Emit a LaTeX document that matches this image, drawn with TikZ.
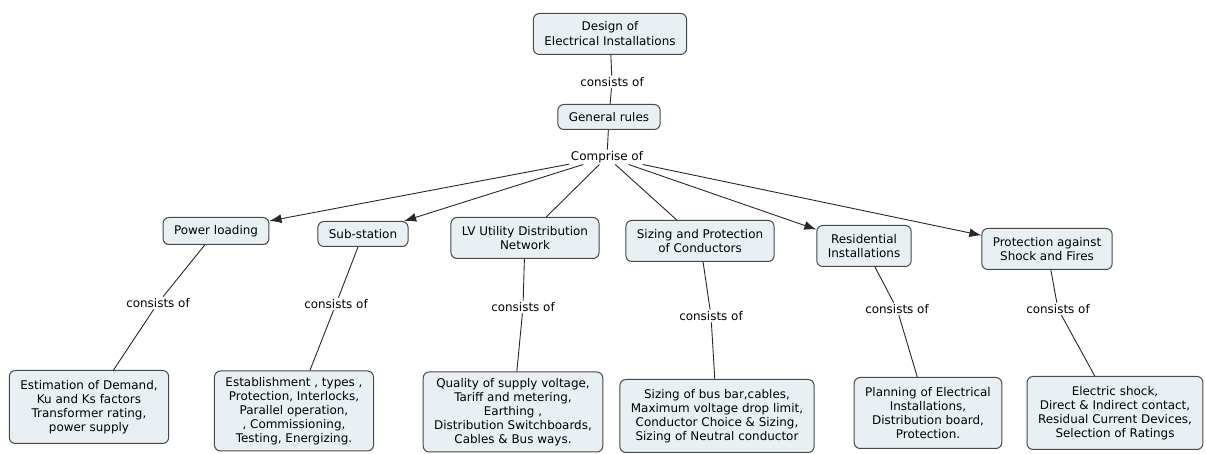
\documentclass[tikz,border=0pt]{standalone}
\usepackage{xcolor}
\usepackage{fontspec}
\setmainfont{DejaVu Sans}
\usepackage{tikz}
\usetikzlibrary{arrows.meta}
\definecolor{cmapFill}{RGB}{233,240,244}
\definecolor{cmapLine}{RGB}{72,72,72}
\definecolor{cmapLink}{RGB}{40,40,40}

\begin{document}
\begin{tikzpicture}[x=1bp,y=-1bp,
  concept/.style={draw=cmapLine, fill=cmapFill, rounded corners=6bp, line width=1bp,
    align=center, inner xsep=11bp, inner ysep=4bp, minimum height=25bp,
    font=\fontsize{12}{14}\selectfont},
  linkword/.style={inner sep=1.5bp, font=\fontsize{12}{14}\selectfont},
  conn/.style={draw=cmapLink, line width=0.9bp},
  arr/.style={conn, -{Latex[length=12bp,width=9bp]}}]
\useasboundingbox (0,0) rectangle (1206,454);
%
\node[concept, minimum height=41bp, font=\fontsize{12}{15}\selectfont] (top) at (610,34) {Design of\\Electrical Installations};
\node[linkword] (c0) at (612,82) {consists of};
\node[concept] (gen) at (609,117) {General rules};
\node[linkword] (comp) at (607,157) {Comprise of};
\draw[conn] (top) -- (c0);
\draw[conn] (c0) -- (gen);
\draw[conn] (gen) -- (comp);

%
\node[concept, minimum height=27bp] (pl) at (216,231) {Power loading};
\node[concept] (ss) at (363,234) {Sub-station};
\node[concept, minimum height=41bp] (lv) at (525,238) {LV Utility Distribution\\Network};
\node[concept, minimum height=41bp] (sp) at (700,241) {Sizing and Protection\\of Conductors};
\node[concept, minimum height=41bp] (res) at (864,246) {Residential\\Installations};
\node[concept, minimum height=41bp] (prot) at (1047,249) {Protection against\\Shock and Fires};
\draw[arr] (comp) -- (pl);
\draw[arr] (comp) -- (ss);
\draw[conn] (comp) -- (lv);
\draw[conn] (comp) -- (sp);
\draw[arr] (comp) -- (res);
\draw[arr] (comp) -- (prot);

%
\node[linkword] (lpl) at (158,303) {consists of};
\node[linkword] (lss) at (336,304) {consists of};
\node[linkword] (llv) at (523,307) {consists of};
\node[linkword] (lsp) at (711,316) {consists of};
\node[linkword] (lres) at (897,309) {consists of};
\node[linkword] (lprot) at (1058,309) {consists of};

%
\node[concept, minimum height=73bp] (bpl) at (89,407) {Estimation of Demand,\\Ku and Ks factors\\Transformer rating,\\power supply};
\node[concept, minimum height=80bp] (bss) at (294,411) {Establishment , types ,\\Protection, Interlocks,\\Parallel operation,\\, Commissioning,\\Testing, Energizing.};
\node[concept, minimum height=80bp] (blv) at (513,412) {Quality of supply voltage,\\Tariff and metering,\\Earthing ,\\Distribution Switchboards,\\Cables \& Bus ways.};
\node[concept, minimum height=73bp] (bsp) at (717,416) {Sizing of bus bar,cables,\\Maximum voltage drop limit,\\Conductor Choice \& Sizing,\\Sizing of Neutral conductor};
\node[concept, minimum height=71bp] (bres) at (928,413) {Planning of Electrical\\Installations,\\Distribution board,\\Protection.};
\node[concept, minimum height=73bp] (bprot) at (1115,413) {Electric shock,\\Direct \& Indirect contact,\\Residual Current Devices,\\Selection of Ratings};

%
\draw[conn] (pl) -- (lpl);
\draw[conn] (lpl) -- (bpl);
\draw[conn] (ss) -- (lss);
\draw[conn] (lss) -- (bss);
\draw[conn] (lv) -- (llv);
\draw[conn] (llv) -- (blv);
\draw[conn] (sp) -- (lsp);
\draw[conn] (lsp) -- (bsp);
\draw[conn] (res) -- (lres);
\draw[conn] (lres) -- (bres);
\draw[conn] (prot) -- (lprot);
\draw[conn] (lprot) -- (bprot);
\end{tikzpicture}
\end{document}
